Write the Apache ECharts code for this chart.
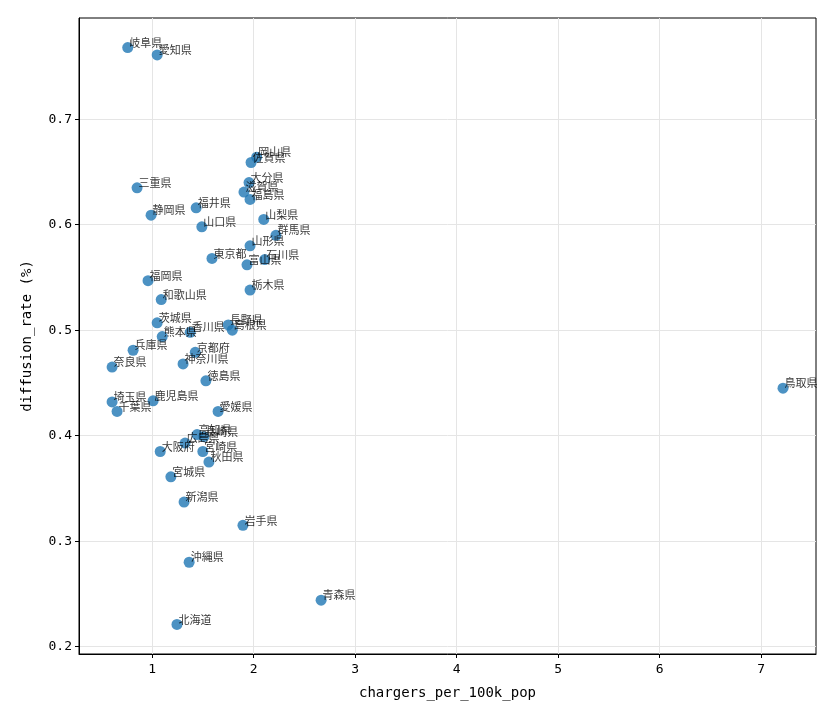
<!DOCTYPE html>
<html>
<head>
<meta charset="utf-8">
<script src="https://cdn.jsdelivr.net/npm/echarts@6/dist/echarts.min.js"></script>
<style>
  html, body { margin: 0; padding: 0; background: #fff; }
  #chart { width: 840px; height: 720px; }
</style>
</head>
<body>
<div id="chart"></div>
<script>
// prefecture names, chargers per 100k population, EV diffusion rate (%)
const prefectures = [
  '岐阜県', '愛知県', '岡山県', '佐賀県', '大分県', '滋賀県', '福島県', '三重県',
  '福井県', '静岡県', '山口県', '山梨県', '群馬県', '山形県', '東京都', '石川県',
  '富山県', '福岡県', '栃木県', '和歌山県', '茨城県', '長野県', '島根県', '熊本県',
  '香川県', '兵庫県', '京都府', '奈良県', '神奈川県', '徳島県', '埼玉県', '鹿児島県',
  '千葉県', '愛媛県', '高知県', '長崎県', '広島県', '宮崎県', '秋田県', '大阪府',
  '宮城県', '新潟県', '岩手県', '沖縄県', '青森県', '北海道', '鳥取県'
];
const chargers = [
  0.76, 1.05, 2.03, 1.975, 1.955, 1.905, 1.965, 0.852,
  1.434, 0.99, 1.49, 2.10, 2.22, 1.965, 1.59, 2.11,
  1.935, 0.96, 1.965, 1.09, 1.05, 1.75, 1.79, 1.10,
  1.375, 0.813, 1.425, 0.606, 1.305, 1.53, 0.606, 1.01,
  0.655, 1.65, 1.443, 1.51, 1.325, 1.50, 1.56, 1.08,
  1.185, 1.315, 1.895, 1.365, 2.665, 1.245, 7.215
];
const rates = [
  0.768, 0.761, 0.664, 0.659, 0.640, 0.631, 0.624, 0.635,
  0.616, 0.609, 0.598, 0.605, 0.590, 0.580, 0.568, 0.567,
  0.562, 0.547, 0.538, 0.529, 0.507, 0.505, 0.500, 0.494,
  0.498, 0.481, 0.479, 0.465, 0.468, 0.452, 0.432, 0.433,
  0.423, 0.423, 0.401, 0.399, 0.393, 0.385, 0.375, 0.385,
  0.361, 0.337, 0.315, 0.280, 0.244, 0.221, 0.445
];
const xTicks = [1, 2, 3, 4, 5, 6, 7];
const yTicks = [0.2, 0.3, 0.4, 0.5, 0.6, 0.7];

const MONO = '"DejaVu Sans Mono", monospace';
const JP = '"Noto Sans CJK JP", sans-serif';

const points = prefectures.map((name, i) => ({ name, value: [chargers[i], rates[i]] }));

const chart = echarts.init(document.getElementById('chart'), null, { renderer: 'canvas' });
chart.setOption({
  animation: false,
  grid: {
    left: 79, right: 24, top: 18, bottom: 66,
    show: true, borderColor: '#000', borderWidth: 1, backgroundColor: 'transparent'
  },
  xAxis: {
    type: 'value',
    min: 0.28, max: 7.54,
    name: 'chargers_per_100k_pop',
    nameLocation: 'middle',
    nameGap: 32,
    nameTextStyle: { color: '#000', fontFamily: MONO, fontSize: 14 },
    axisLine: { show: true, onZero: false, lineStyle: { color: '#000', width: 1 } },
    axisTick: { show: true, inside: false, length: 4, lineStyle: { color: '#000' }, customValues: xTicks },
    axisLabel: { color: '#000', fontFamily: MONO, fontSize: 13, margin: 9, customValues: xTicks },
    splitLine: { show: true, lineStyle: { color: '#e5e5e5', width: 1 } }
  },
  yAxis: {
    type: 'value',
    min: 0.193, max: 0.796,
    name: 'diffusion_rate (%)',
    nameLocation: 'middle',
    nameGap: 45,
    nameTextStyle: { color: '#000', fontFamily: MONO, fontSize: 14 },
    axisLine: { show: true, onZero: false, lineStyle: { color: '#000', width: 1 } },
    axisTick: { show: true, inside: false, length: 4, lineStyle: { color: '#000' }, customValues: yTicks },
    axisLabel: {
      color: '#000', fontFamily: MONO, fontSize: 13, margin: 7, customValues: yTicks,
      formatter: v => v.toFixed(1)
    },
    splitLine: { show: true, lineStyle: { color: '#e5e5e5', width: 1 } }
  },
  series: [{
    type: 'scatter',
    data: points,
    symbolSize: 11,
    itemStyle: { color: '#1f77b4', opacity: 0.8 },
    label: {
      show: true,
      formatter: p => p.name,
      position: [7, -5],
      align: 'left',
      verticalAlign: 'top',
      color: '#000',
      fontFamily: JP,
      fontSize: 11,
      lineHeight: 11
    },
    labelLayout: { hideOverlap: false },
    emphasis: { disabled: true }
  }]
});
</script>
</body>
</html>
